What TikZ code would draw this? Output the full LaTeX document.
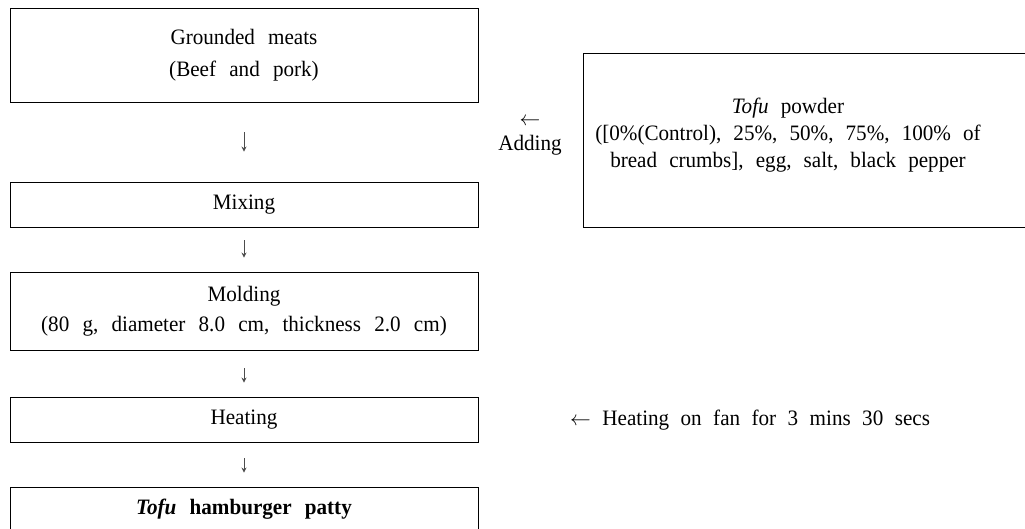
\documentclass[tikz,border=0pt]{standalone}
\usepackage{fontspec}
\setmainfont{Liberation Serif}[FakeStretch=0.96]
\usetikzlibrary{arrows.meta}
\newcommand\dgfont{\fontsize{22}{30}\selectfont\spaceskip=0.6em plus 0.1em\relax}
\newcommand\tofufont{\fontsize{22}{27}\selectfont\spaceskip=0.55em plus 0.1em\relax}
\newcommand\addfont{\fontsize{22}{25}\selectfont}
\newcommand\lblfont{\fontsize{22}{30}\selectfont\spaceskip=0.52em plus 0.1em\relax}
\begin{document}
\begin{tikzpicture}[x=1pt,y=-1pt,
  stepbox/.style={draw=black, line width=0.9pt, minimum width=468pt, inner sep=0pt, align=center, font=\dgfont},
  plain/.style={inner sep=0pt, align=center, font=\dgfont},
  flowarrow/.style={draw=black!70, line width=0.8pt, -{Stealth[length=5pt,width=5pt]}}]
\useasboundingbox (0,0) rectangle (1025,529);
\clip (0,0) rectangle (1025,529);
\node[stepbox, minimum height=94pt] (meat) at (244,55) {Grounded meats\\[2pt](Beef and pork)};
\node[stepbox, minimum height=45pt] (mix) at (244,204.5) {Mixing};
\node[stepbox, minimum height=78pt] (mold) at (244,311) {Molding\\(80 g, diameter 8.0 cm, thickness 2.0 cm)};
\node[stepbox, minimum height=45pt] (heat) at (244,419.5) {Heating};
\node[stepbox, minimum height=44pt] (patty) at (244,509) {\textbf{\textit{Tofu}} \textbf{hamburger patty}};
\node[draw=black, line width=0.9pt, minimum width=470pt, minimum height=174pt, inner sep=0pt, anchor=north west] (tofubox) at (583,53) {};
\node[plain, font=\tofufont] (tofutext) at (788,135) {\textit{Tofu} powder\\([0\%(Control), 25\%, 50\%, 75\%, 100\% of\\bread crumbs], egg, salt, black pepper};
\node[plain, font=\addfont] (adding) at (530,137) {$\leftarrow$\\Adding};
\node[plain, font=\lblfont, anchor=west] (heatlbl) at (570,420) {$\leftarrow$ Heating on fan for 3 mins 30 secs};
\draw[flowarrow, shorten <=30pt, shorten >=30pt] (meat.south) -- (mix.north);
\draw[flowarrow, shorten <=13pt, shorten >=14pt] (mix.south) -- (mold.north);
\draw[flowarrow, shorten <=18pt, shorten >=14pt] (mold.south) -- (heat.north);
\draw[flowarrow, shorten <=16pt, shorten >=14pt] (heat.south) -- (patty.north);
\end{tikzpicture}
\end{document}
